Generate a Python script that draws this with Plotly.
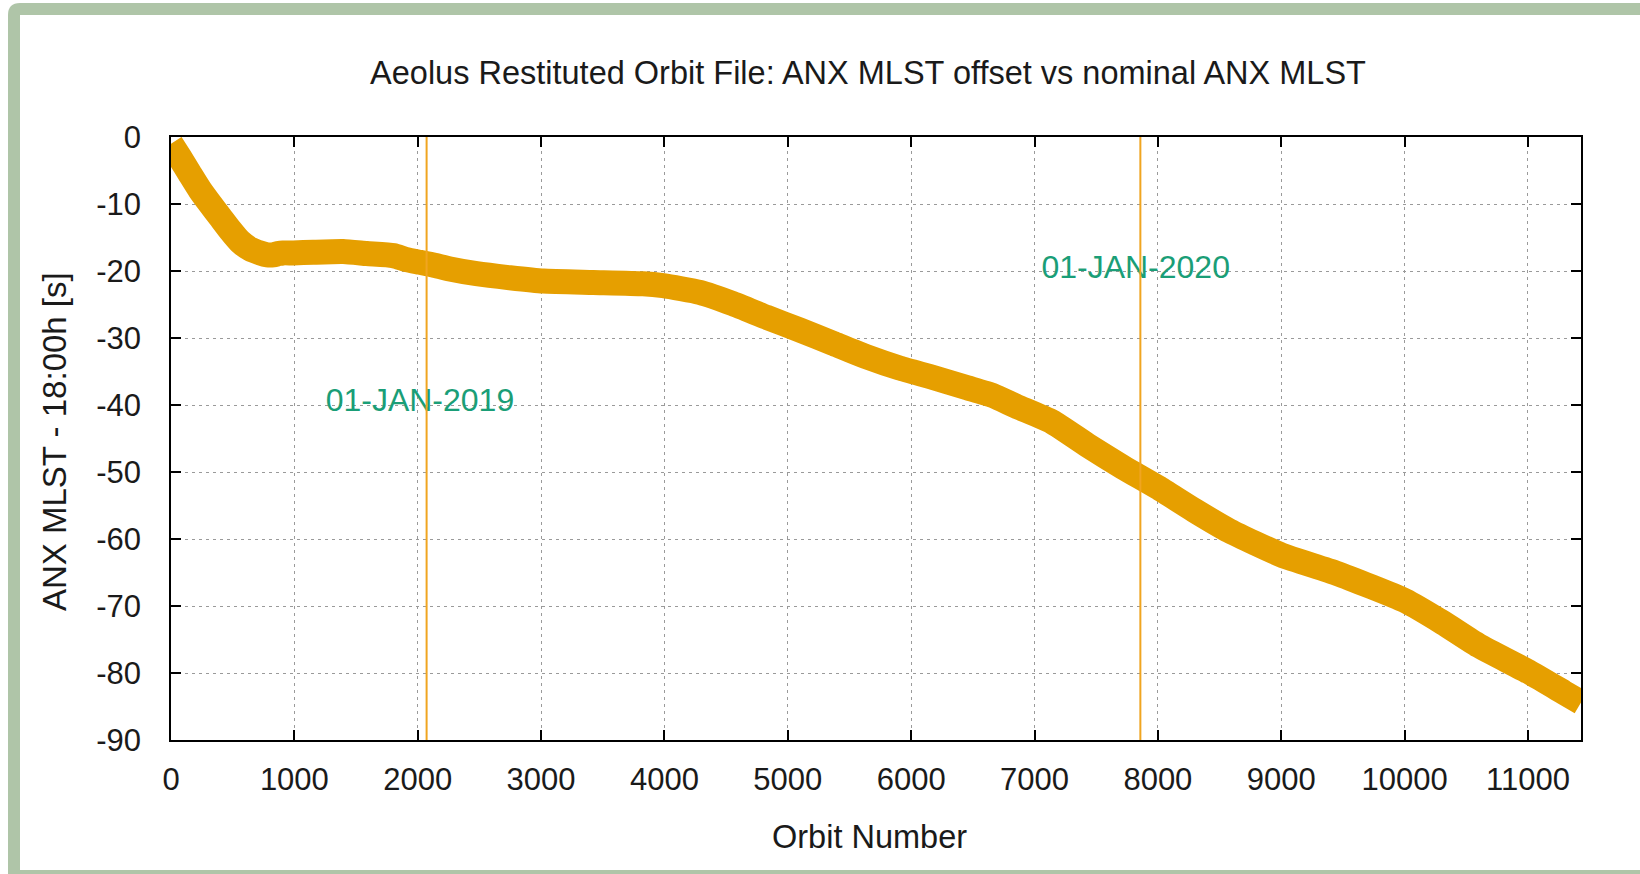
import plotly.graph_objects as go

# ---- data ----
orbit = [0, 73, 150, 235, 310, 397, 480, 559, 640, 721, 780, 829, 870, 910, 991,
         1153, 1396, 1586, 1802, 1910, 2018, 2126, 2261, 2477, 2747, 3017, 3422,
         3827, 3990, 4287, 4557, 4827, 5097, 5367, 5638, 5908, 6178, 6448, 6664,
         6853, 7141, 7429, 7718, 8000, 8294, 8582, 9003, 9447, 10003, 10311,
         10599, 11003, 11291, 11430]
offset_s = [-1.0, -3.1, -5.4, -7.9, -9.8, -11.9, -13.9, -15.6, -16.7, -17.3,
            -17.6, -17.6, -17.4, -17.3, -17.3, -17.2, -17.1, -17.4, -17.7, -18.3,
            -18.7, -19.1, -19.7, -20.4, -21.0, -21.5, -21.7, -21.9, -22.2, -23.2,
            -24.9, -26.9, -28.8, -30.8, -32.8, -34.5, -35.9, -37.4, -38.6, -40.2,
            -42.5, -46.0, -49.3, -52.3, -55.7, -58.8, -62.4, -65.1, -69.2, -72.5,
            -75.9, -79.8, -82.9, -84.4]
year_orbit = [2072, 7858]
year_label = ["01-JAN-2019", "01-JAN-2020"]
label_x = [2018, 7820]
label_y = [-39.7, -19.85]
x_ticks = list(range(0, 12000, 1000))
y_ticks = list(range(-90, 1, 10))

W, H = 1640, 874
L, R, T, B = 171, 1581, 137, 740
FONT = "Liberation Sans, Arial, sans-serif"
ORANGE = "#e69f00"
GREEN_TXT = "#1a9e77"
FRAME = "#afc5a8"
TXT = "#1a1a1a"

def px(x):
    return (x - L) / (R - L)

def py(y):
    return (B - y) / (B - T)

fig = go.Figure()
fig.add_trace(go.Scatter(x=orbit, y=offset_s, mode="lines",
                         line=dict(color=ORANGE, width=25, shape="spline",
                                   smoothing=0.5),
                         showlegend=False, hoverinfo="skip"))
fig.add_trace(go.Scatter(x=label_x, y=label_y, mode="text", text=year_label,
                         textposition="middle center",
                         textfont=dict(family=FONT, size=32, color=GREEN_TXT),
                         showlegend=False, hoverinfo="skip"))
for xo in year_orbit:
    fig.add_trace(go.Scatter(x=[xo, xo], y=[y_ticks[0], y_ticks[-1]], mode="lines",
                             line=dict(color="#f0a520", width=2), showlegend=False,
                             hoverinfo="skip"))

# frame
outer = (f"M {px(8)},{py(15)} Q {px(8)},{py(3)} {px(20)},{py(3)} "
         f"L {px(1700)},{py(3)} L {px(1700)},{py(900)} L {px(8)},{py(900)} Z")
fig.add_shape(type="path", path=outer, xref="paper", yref="paper",
              fillcolor=FRAME, line=dict(width=0), layer="below")
fig.add_shape(type="rect", xref="paper", yref="paper", x0=px(20), x1=px(1700),
              y0=py(15), y1=py(870), fillcolor="white", line=dict(width=0),
              layer="below")

axis_common = dict(showline=True, linecolor="black", linewidth=1.5, mirror="ticks",
                   ticks="inside", ticklen=10, tickwidth=1.5, tickcolor="black",
                   showgrid=True, gridcolor="#9a9a9a", gridwidth=1,
                   griddash="3px,4px", zeroline=False,
                   tickfont=dict(family=FONT, size=31, color=TXT))
fig.update_xaxes(range=[0, 11430], tickvals=x_ticks,
                 ticktext=[str(v) for v in x_ticks], ticklabelstandoff=11,
                 **axis_common)
fig.update_yaxes(range=[-90, 0], tickvals=y_ticks,
                 ticktext=[str(v) for v in y_ticks], ticklabelstandoff=22,
                 **axis_common)

fig.update_layout(
    width=W, height=H,
    margin=dict(l=L, r=W - R, t=T, b=H - B, pad=0),
    paper_bgcolor="white", plot_bgcolor="white",
    title=dict(text="Aeolus Restituted Orbit File: ANX MLST offset vs nominal ANX MLST",
               x=868 / W, xanchor="center", y=1 - 73 / H, yanchor="middle",
               xref="container", yref="container",
               font=dict(family=FONT, size=32.5, color=TXT)),
    annotations=[
        dict(text="Orbit Number", x=px(869), y=py(837), xref="paper", yref="paper",
             xanchor="center", yanchor="middle", showarrow=False,
             font=dict(family=FONT, size=32.5, color=TXT)),
        dict(text="ANX MLST - 18:00h [s]", x=px(54), y=py(442), xref="paper",
             yref="paper", xanchor="center", yanchor="middle", showarrow=False,
             textangle=-90, font=dict(family=FONT, size=33, color=TXT)),
    ],
)
fig.write_html("out.html", config={"displayModeBar": False},
               post_script="document.body.style.margin='0';document.body.style.overflow='hidden';")
